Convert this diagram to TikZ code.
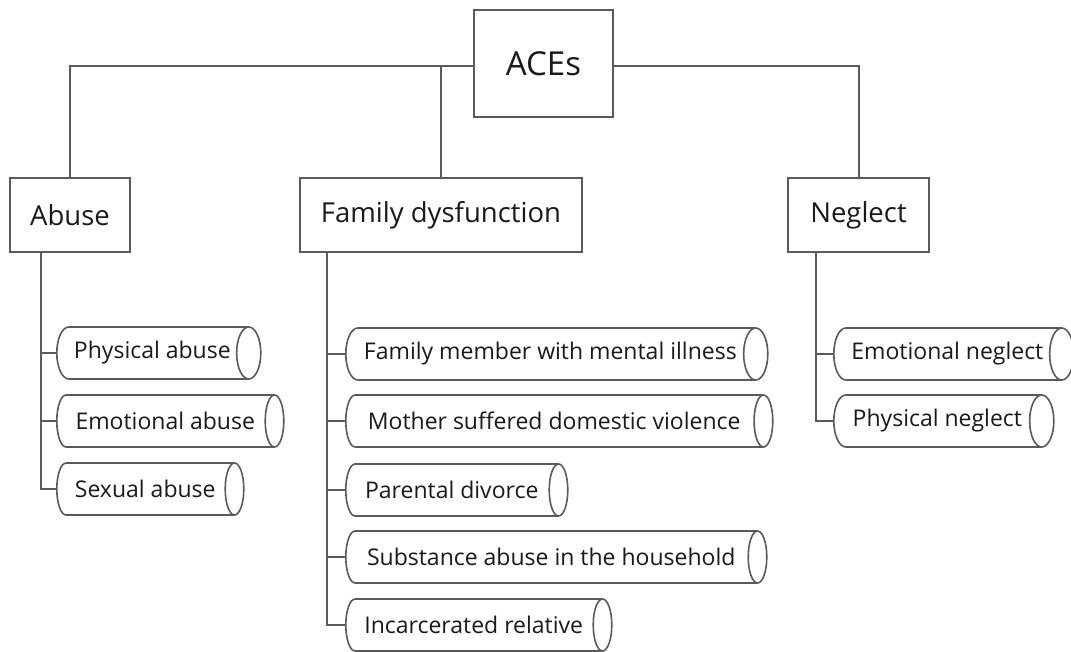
\documentclass[tikz,border=0pt]{standalone}
\usepackage{fontspec}
\setmainfont{Open Sans}
\usetikzlibrary{shapes.geometric}
\definecolor{linec}{HTML}{5A5A5A}
\definecolor{txtc}{HTML}{1A1A1A}
\begin{document}
\begin{tikzpicture}[x=1pt,y=-1pt,
  box/.style={draw=linec, line width=2pt, fill=white, text=txtc, inner sep=0pt},
  topbox/.style={box, minimum width=139pt, minimum height=107pt, font=\fontsize{33}{40}\selectfont},
  midbox/.style={box, minimum height=74pt, font=\fontsize{27.5}{33}\selectfont},
  cyl/.style={cylinder, shape border rotate=0, aspect=1.05, draw=linec, line width=1.6pt, fill=white, text=txtc, minimum width=52pt, minimum height=#1, inner sep=0pt, font=\fontsize{23}{27}\selectfont, anchor=west},
  link/.style={draw=linec, line width=2pt}
]
\useasboundingbox (0,0) rectangle (1071,651);
\fill[white] (0,0) rectangle (1071,651);

\node[topbox] (aces) at (543.5,63.5) {ACEs};
\node[midbox, minimum width=120pt] (abuse) at (70,215) {Abuse};
\node[midbox, minimum width=282pt] (fam) at (441,215) {Family dysfunction};
\node[midbox, minimum width=141pt] (neg) at (858.5,215) {Neglect};

\coordinate (aw) at ([yshift=-2.5pt]aces.west);
\coordinate (ae) at ([yshift=-2.5pt]aces.east);
\draw[link] (aw) -| (abuse.north);
\draw[link] (aw) -| (fam.north);
\draw[link] (ae) -| (neg.north);

\node[cyl=204pt] (pa) at (56,353) {Physical abuse};
\node[cyl=227pt] (ea) at (56,421) {Emotional abuse};
\node[cyl=187pt] (sa) at (56,489) {Sexual abuse};

\node[cyl=422pt] (f1) at (345,354) {Family member with mental illness};
\node[cyl=427pt] (f2) at (345,421) {Mother suffered domestic violence};
\node[cyl=222pt] (f3) at (345,490) {Parental divorce};
\node[cyl=421pt] (f4) at (345,557) {Substance abuse in the household};
\node[cyl=266pt] (f5) at (345,625) {Incarcerated relative};

\node[cyl=240pt] (n1) at (833,354) {Emotional neglect};
\node[cyl=220pt] (n2) at (833,421) {Physical neglect};

\coordinate (ab) at ([xshift=32pt]abuse.south west);
\coordinate (fb) at ([xshift=28pt]fam.south west);
\coordinate (nb) at ([xshift=29pt]neg.south west);

\foreach \c in {pa,ea,sa} \draw[link] (ab) |- (\c.west);
\foreach \c in {f1,f2,f3,f4,f5} \draw[link] (fb) |- (\c.west);
\foreach \c in {n1,n2} \draw[link] (nb) |- (\c.west);
\end{tikzpicture}
\end{document}
